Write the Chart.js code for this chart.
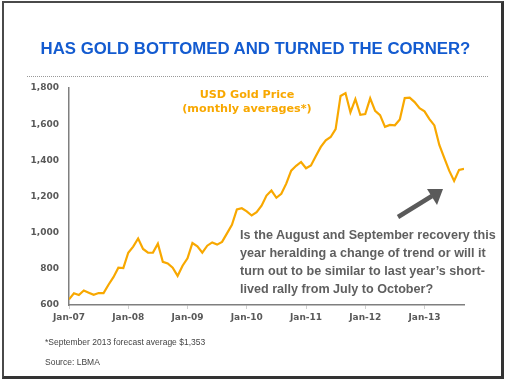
<!DOCTYPE html>
<html>
<head>
<meta charset="utf-8">
<script src="https://cdn.jsdelivr.net/npm/chart.js@4.4.1/dist/chart.umd.min.js"></script>
<style>
  html,body{margin:0;padding:0;background:#fff;}
  #wrap{position:relative;width:507px;height:380px;overflow:hidden;background:#fff;}
  #frame{position:absolute;left:2px;top:1px;width:497px;height:373px;border-left:2px solid #4a4a4a;border-top:2px solid #4a4a4a;border-right:3px solid #333;border-bottom:3px solid #333;}
  #title{position:absolute;left:0;top:39px;width:511px;text-align:center;font:bold 16.8px "Liberation Sans",Arial,sans-serif;color:#135bd0;line-height:20px;white-space:nowrap;}
  #dots{position:absolute;left:27px;top:76px;width:461px;border-top:1px dotted #999;}
  #legend{position:absolute;left:147px;top:88px;width:200px;text-align:center;font:bold 11.2px "DejaVu Sans",Verdana,sans-serif;color:#F8A800;line-height:14px;white-space:pre;}
  #note{position:absolute;left:240px;top:226px;font:bold 12.6px "Liberation Sans",Arial,sans-serif;color:#5f5f5f;line-height:18px;white-space:pre;}
  .foot{position:absolute;left:45px;font:8.5px "Liberation Sans",Arial,sans-serif;color:#444;line-height:12px;white-space:nowrap;}
  canvas{position:absolute;left:0;top:0;}
  svg{position:absolute;left:0;top:0;}
</style>
</head>
<body>
<div id="wrap">
  <canvas id="c" width="507" height="380"></canvas>
  <div id="frame"></div>
  <div id="title">HAS GOLD BOTTOMED AND TURNED THE CORNER?</div>
  <div id="dots"></div>
  <div id="legend">USD Gold Price
(monthly averages*)</div>
  <div id="note">Is the August and September recovery this
year heralding a change of trend or will it
turn out to be similar to last year’s short-
lived rally from July to October?</div>
  <svg width="507" height="380">
    <line x1="398" y1="217" x2="432" y2="196" stroke="#5a5a5a" stroke-width="4.5"/>
    <polygon points="443,189 427,189 437,205" fill="#5a5a5a"/>
  </svg>
  <div class="foot" style="top:336px;">*September 2013 forecast average $1,353</div>
  <div class="foot" style="top:356px;">Source: LBMA</div>
</div>
<script>
// Year-start tick labels
const tickLabels = ['Jan-07','Jan-08','Jan-09','Jan-10','Jan-11','Jan-12','Jan-13'];
// Monthly average USD gold price, Jan-07 .. Sep-13 (per year)
const price2007 = [631, 665, 655, 680, 668, 656, 666, 666, 712, 754, 806, 804];
const price2008 = [889, 923, 968, 910, 889, 890, 939, 839, 830, 806, 761, 817];
const price2009 = [858, 943, 925, 890, 928, 946, 934, 949, 996, 1043, 1128, 1135];
const price2010 = [1118, 1095, 1113, 1149, 1205, 1233, 1193, 1215, 1271, 1343, 1370, 1391];
const price2011 = [1356, 1372, 1424, 1474, 1511, 1529, 1573, 1756, 1772, 1665, 1739, 1652];
const price2012 = [1656, 1743, 1674, 1650, 1585, 1596, 1594, 1626, 1744, 1747, 1722, 1688];
const price2013 = [1671, 1628, 1593, 1485, 1414, 1343, 1286, 1347, 1353];
const yTicks = [600, 800, 1000, 1200, 1400, 1600, 1800];

const goldPrice = [].concat(price2007, price2008, price2009, price2010, price2011, price2012, price2013);
const points = goldPrice.map((v, i) => ({x: i, y: v}));

new Chart(document.getElementById('c'), {
  type: 'line',
  data: { datasets: [{
    data: points,
    borderColor: '#F8A800',
    borderWidth: 2.2,
    pointRadius: 0,
    tension: 0,
    fill: false
  }]},
  options: {
    responsive: false,
    animation: false,
    events: [],
    layout: { padding: { left: 0, right: 43, top: 88, bottom: 55 } },
    plugins: { legend: { display: false }, tooltip: { enabled: false } },
    scales: {
      x: {
        type: 'linear',
        min: 0,
        max: goldPrice.length - 1,
        afterBuildTicks: s => { s.ticks = tickLabels.map((t, i) => ({ value: i * 12 })); },
        afterFit: s => { s.height = 20; },
        grid: { drawOnChartArea: false, drawTicks: true, tickLength: 4, color: '#cfcfcf' },
        border: { color: '#7f7f7f', width: 1.5 },
        ticks: {
          autoSkip: false, maxRotation: 0, padding: 3,
          color: '#595959',
          font: { family: 'DejaVu Sans', size: 9, weight: 'bold' },
          callback: v => tickLabels[Math.round(v / 12)]
        }
      },
      y: {
        min: 600, max: 1800,
        afterBuildTicks: s => { s.ticks = yTicks.map(v => ({ value: v })); },
        afterFit: s => { s.width = 69; },
        grid: { display: true, drawOnChartArea: false, drawTicks: false },
        border: { color: '#7f7f7f', width: 1.5 },
        ticks: {
          padding: 10,
          color: '#595959',
          font: { family: 'DejaVu Sans', size: 9, weight: 'bold' },
          callback: v => v.toLocaleString('en-US')
        }
      }
    }
  }
});
</script>
</body>
</html>
